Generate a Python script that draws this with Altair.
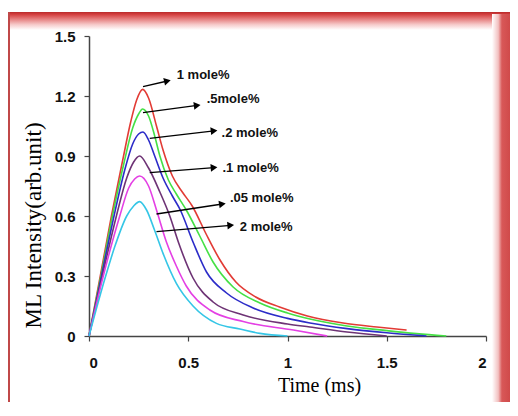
import math
import altair as alt
import pandas as pd

# ---- data ----
series_names = ["1 mole%", ".5 mole%", ".2 mole%", ".1 mole%", ".05 mole%", "2 mole%"]
series_colors = ["#e23b35", "#45e045", "#2c2cc8", "#6e3375", "#e440e4", "#35c6e6"]

red_t = [0, 0.057, 0.113, 0.17, 0.21, 0.24, 0.27, 0.30, 0.34, 0.373, 0.42, 0.47, 0.52, 0.59, 0.66, 0.74, 0.84, 0.96, 1.1, 1.28, 1.45, 1.6]
red_v = [0, 0.30, 0.60, 0.88, 1.07, 1.18, 1.233, 1.19, 1.05, 0.93, 0.80, 0.72, 0.65, 0.51, 0.38, 0.27, 0.195, 0.145, 0.10, 0.065, 0.045, 0.03]

green_t = [0, 0.06, 0.118, 0.175, 0.22, 0.25, 0.27, 0.30, 0.331, 0.357, 0.40, 0.44, 0.49, 0.558, 0.625, 0.726, 0.861, 1.0, 1.113, 1.3, 1.5, 1.65, 1.8]
green_v = [0, 0.30, 0.60, 0.86, 1.04, 1.11, 1.135, 1.10, 1.0, 0.90, 0.78, 0.71, 0.63, 0.50, 0.37, 0.245, 0.165, 0.115, 0.085, 0.05, 0.027, 0.012, 0.0]

blue_t = [0, 0.063, 0.126, 0.18, 0.22, 0.25, 0.272, 0.30, 0.331, 0.373, 0.42, 0.46, 0.524, 0.592, 0.693, 0.827, 1.0, 1.113, 1.3, 1.5, 1.7]
blue_v = [0, 0.30, 0.60, 0.83, 0.96, 1.01, 1.02, 0.98, 0.90, 0.79, 0.70, 0.63, 0.47, 0.32, 0.215, 0.14, 0.088, 0.065, 0.037, 0.016, 0.0]

purple_t = [0, 0.067, 0.138, 0.19, 0.225, 0.255, 0.30, 0.357, 0.407, 0.45, 0.524, 0.625, 0.777, 1.0, 1.113, 1.3, 1.5]
purple_v = [0, 0.30, 0.60, 0.79, 0.87, 0.90, 0.84, 0.72, 0.60, 0.47, 0.29, 0.17, 0.105, 0.06, 0.045, 0.02, 0.0]

magenta_t = [0, 0.072, 0.155, 0.20, 0.23, 0.255, 0.30, 0.34, 0.39, 0.44, 0.49, 0.609, 0.777, 1.03, 1.2]
magenta_v = [0, 0.30, 0.60, 0.74, 0.785, 0.80, 0.75, 0.63, 0.47, 0.35, 0.25, 0.13, 0.072, 0.03, 0.0]

cyan_t = [0, 0.084, 0.13, 0.19, 0.225, 0.255, 0.29, 0.33, 0.373, 0.44, 0.524, 0.642, 0.76, 0.861, 1.0]
cyan_v = [0, 0.30, 0.447, 0.60, 0.65, 0.672, 0.63, 0.53, 0.413, 0.263, 0.15, 0.063, 0.035, 0.013, 0.0]

# annotation arrows: start (t, v) -> end (t, v), label position
arrow_t1 = [0.272, 0.272, 0.306, 0.306, 0.34, 0.34]
arrow_v1 = [1.247, 1.117, 0.988, 0.817, 0.61, 0.522]
arrow_t2 = [0.395, 0.545, 0.63, 0.63, 0.672, 0.714]
arrow_v2 = [1.275, 1.153, 1.026, 0.842, 0.66, 0.553]
label_t = [0.442, 0.593, 0.668, 0.672, 0.71, 0.76]
label_v = [1.305, 1.183, 1.017, 0.838, 0.688, 0.547]
label_text = ["1 mole%", ".5mole%", ".2 mole%", ".1 mole%", ".05 mole%", "2 mole%"]

x_ticks = [0, 0.5, 1, 1.5, 2]
y_ticks = [0, 0.3, 0.6, 0.9, 1.2, 1.5]

# ---- build tables ----
all_t = [red_t, green_t, blue_t, purple_t, magenta_t, cyan_t]
all_v = [red_v, green_v, blue_v, purple_v, magenta_v, cyan_v]
rows = []
for name, ts, vs in zip(series_names, all_t, all_v):
    for t, v in zip(ts, vs):
        rows.append({"series": name, "t": t, "v": v})
df = pd.DataFrame(rows)

W, H = 397, 300
XMAX, YMAX = 2.0, 1.5
arr_rows = []
for i in range(len(label_text)):
    dx = (arrow_t2[i] - arrow_t1[i]) * W / XMAX
    dy = -(arrow_v2[i] - arrow_v1[i]) * H / YMAX
    ang = math.degrees(math.atan2(dy, dx)) % 360
    arr_rows.append({"t1": arrow_t1[i], "v1": arrow_v1[i], "t2": arrow_t2[i], "v2": arrow_v2[i],
                     "lt": label_t[i], "lv": label_v[i], "label": label_text[i], "ang": ang})
adf = pd.DataFrame(arr_rows)

xs = alt.Scale(domain=[0, XMAX], nice=False)
ys = alt.Scale(domain=[0, YMAX], nice=False)

lines = alt.Chart(df).mark_line(strokeWidth=1.6, interpolate="monotone").encode(
    x=alt.X("t:Q", scale=xs, axis=alt.Axis(
        values=x_ticks, labelExpr="'' + datum.value", title="Time (ms)",
        titleFont="Liberation Serif", titleFontSize=20, titleFontWeight="normal",
        titleX=230, titleY=49, titleBaseline="middle", titleAlign="center",
        labelFont="Liberation Sans", labelFontSize=15, labelFontWeight="bold", labelColor="#111",
        labelPadding=14, tickSize=5, tickColor="#444", domainColor="#444", domainWidth=1.5,
        tickWidth=1.2, grid=False)),
    y=alt.Y("v:Q", scale=ys, axis=alt.Axis(
        values=y_ticks, labelExpr="'' + datum.value", title="ML Intensity(arb.unit)",
        titleFont="Liberation Serif", titleFontSize=23, titleFontWeight="normal",
        titleX=-56, titleY=189, titleBaseline="middle", titleAlign="center", titleAngle=-90,
        labelFont="Liberation Sans", labelFontSize=15, labelFontWeight="bold", labelColor="#111",
        labelPadding=9, tickSize=5, tickColor="#444", domainColor="#444", domainWidth=1.5,
        tickWidth=1.2, grid=False)),
    color=alt.Color("series:N", scale=alt.Scale(domain=series_names, range=series_colors), legend=None),
    detail="series:N",
    order=alt.Order("t:Q"),
)

rules = alt.Chart(adf).mark_rule(color="black", strokeWidth=1.3).encode(
    x=alt.X("t1:Q", scale=xs), y=alt.Y("v1:Q", scale=ys),
    x2="t2:Q", y2="v2:Q")

heads = alt.Chart(adf).mark_point(shape="triangle-right", filled=True, color="black", size=60, opacity=1).encode(
    x=alt.X("t2:Q", scale=xs), y=alt.Y("v2:Q", scale=ys), angle=alt.Angle("ang:Q", scale=None))

texts = alt.Chart(adf).mark_text(align="left", baseline="middle", font="Liberation Sans",
                                 fontSize=13, fontWeight="bold", color="#111").encode(
    x=alt.X("lt:Q", scale=xs), y=alt.Y("lv:Q", scale=ys), text="label:N")

one = alt.Data(values=[{"k": 1}])
top_band = alt.Chart(one).mark_rect(color=alt.LinearGradient(
    gradient="linear", x1=0, y1=0, x2=0, y2=1,
    stops=[alt.GradientStop(offset=0, color="#b82a2a"),
           alt.GradientStop(offset=0.12, color="#d23c3c"),
           alt.GradientStop(offset=0.3, color="#e06868"),
           alt.GradientStop(offset=0.7, color="#f6caca"),
           alt.GradientStop(offset=1, color="#ffffff")])).encode(
    x=alt.value(-81), x2=alt.value(421), y=alt.value(-24), y2=alt.value(-6))

right_band = alt.Chart(one).mark_rect(color=alt.LinearGradient(
    gradient="linear", x1=0, y1=0, x2=1, y2=0,
    stops=[alt.GradientStop(offset=0, color="#ffffff"),
           alt.GradientStop(offset=0.35, color="#f2c0c0"),
           alt.GradientStop(offset=0.55, color="#d85858"),
           alt.GradientStop(offset=1, color="#d04a4a")])).encode(
    x=alt.value(403), x2=alt.value(421), y=alt.value(-22), y2=alt.value(366))

left_line = alt.Chart(one).mark_rect(color="#c04848").encode(
    x=alt.value(-81), x2=alt.value(-79), y=alt.value(-24), y2=alt.value(366))

chart = alt.layer(top_band, right_band, left_line, lines, rules, heads, texts).properties(
    width=W, height=H,
    padding={"left": 81, "top": 28, "right": 24, "bottom": 66},
    autosize=alt.AutoSizeParams(type="none"),
    background="white",
).configure_view(stroke=None)

chart.save("out.html", embed_options={"renderer": "svg", "actions": False})
